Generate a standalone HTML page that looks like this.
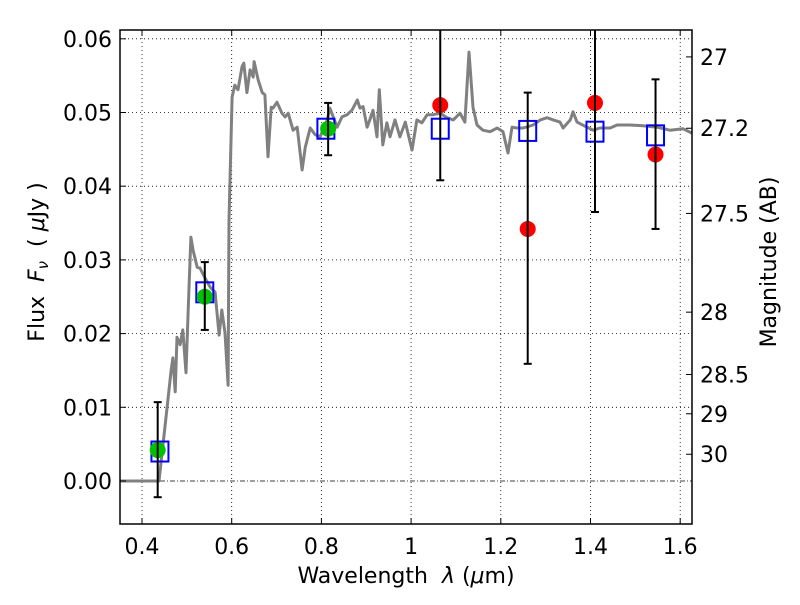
<!DOCTYPE html>
<html><head><meta charset="utf-8"><style>
body{margin:0;background:#fff}
svg text{font-family:"DejaVu Sans","Liberation Sans",sans-serif;fill:#000;white-space:pre}
</style></head><body>
<svg id="chart" width="800" height="600" xmlns="http://www.w3.org/2000/svg">
<rect width="800" height="600" fill="#fff"/>
<g id="grid"></g>
<g id="spec"></g>
<g id="marks"></g>
<g id="axes"></g>
</svg>
<script>
const specLam=[0.35,0.438,0.456,0.465,0.469,0.474,0.478,0.485,0.491,0.498,0.503,0.509,0.514,0.523,0.529,0.541,0.552,0.563,0.572,0.578,0.585,0.592,0.594,0.601,0.607,0.614,0.623,0.627,0.634,0.641,0.648,0.650,0.659,0.668,0.674,0.681,0.688,0.692,0.701,0.712,0.719,0.726,0.737,0.746,0.757,0.764,0.775,0.786,0.797,0.813,0.819,0.835,0.846,0.857,0.868,0.880,0.886,0.893,0.902,0.908,0.915,0.924,0.929,0.937,0.946,0.953,0.964,0.975,0.987,1.002,1.013,1.024,1.036,1.049,1.065,1.080,1.094,1.109,1.120,1.129,1.138,1.147,1.160,1.176,1.192,1.205,1.216,1.225,1.236,1.250,1.272,1.288,1.303,1.317,1.332,1.339,1.355,1.361,1.370,1.392,1.406,1.421,1.444,1.459,1.488,1.517,1.548,1.577,1.606,1.626];
const specFlux=[0,0,0.0100,0.0151,0.0167,0.0121,0.0195,0.0185,0.0205,0.0147,0.0232,0.0331,0.0313,0.0290,0.0289,0.0275,0.0263,0.0256,0.0198,0.0232,0.0201,0.0130,0.0354,0.0521,0.0537,0.0531,0.0562,0.0567,0.0527,0.0558,0.0548,0.0569,0.0544,0.0527,0.0524,0.0440,0.0507,0.0506,0.0514,0.0499,0.0494,0.0499,0.0476,0.0480,0.0422,0.0453,0.0479,0.0470,0.0467,0.0490,0.0506,0.0480,0.0494,0.0497,0.0503,0.0517,0.0506,0.0508,0.0480,0.0490,0.0503,0.0467,0.0531,0.0456,0.0486,0.0467,0.0490,0.0467,0.0487,0.0449,0.0490,0.0486,0.0497,0.0497,0.0499,0.0493,0.0490,0.0499,0.0487,0.0582,0.0507,0.0483,0.0476,0.0474,0.0479,0.0474,0.0445,0.0480,0.0479,0.0479,0.0483,0.0490,0.0493,0.0490,0.0487,0.0479,0.0490,0.0501,0.0487,0.0480,0.0476,0.0479,0.0479,0.0483,0.0483,0.0482,0.0480,0.0476,0.0478,0.0472];
const errLam=[0.435,0.54,0.815,1.065,1.26,1.41,1.545];
const errLo=[-0.0022,0.0205,0.0442,0.0408,0.0159,0.0365,0.0342];
const errHi=[0.0107,0.0297,0.0513,0.0700,0.0527,0.0700,0.0545];
const modelLam=[0.44,0.54,0.81,1.065,1.26,1.41,1.545];
const modelFlux=[0.0040,0.0256,0.0478,0.0478,0.0475,0.0474,0.0469];
const detLam=[0.435,0.54,0.815];
const detFlux=[0.0042,0.0250,0.0478];
const redLam=[1.065,1.26,1.41,1.545];
const redFlux=[0.0510,0.0342,0.0513,0.0443];
const xTicks=[0.4,0.6,0.8,1.0,1.2,1.4,1.6];
const xTickLabels=["0.4","0.6","0.8","1","1.2","1.4","1.6"];
const yTicks=[0,0.01,0.02,0.03,0.04,0.05,0.06];
const yTickLabels=["0.00","0.01","0.02","0.03","0.04","0.05","0.06"];
const magTicks=[27,27.2,27.5,28,28.5,29,30];
const magTickLabels=["27","27.2","27.5","28","28.5","29","30"];

const L=120,R=692,T=30,B=524;
const X=v=>142+(v-0.4)*448.5;
const Y=v=>481-v*7370;
const magY=m=>Y(Math.pow(10,(23.9-m)/2.5));
const NS="http://www.w3.org/2000/svg";
function mk(p,tag,at){const e=document.createElementNS(NS,tag);for(const k in at)e.setAttribute(k,at[k]);p.appendChild(e);return e;}
const grid=document.getElementById('grid'),spec=document.getElementById('spec'),marks=document.getElementById('marks'),axes=document.getElementById('axes');
const FS=22;
xTicks.forEach((t,i)=>{
 const g=mk(grid,'line',{x1:X(t),x2:X(t),y1:T,y2:B,stroke:'#000','stroke-width':0.8,'stroke-dasharray':'1,3'});
 
 
 mk(axes,'line',{x1:X(t),x2:X(t),y1:B,y2:B-6,stroke:'#000','stroke-width':1});
 mk(axes,'line',{x1:X(t),x2:X(t),y1:T,y2:T+6,stroke:'#000','stroke-width':1});
 const tx=mk(axes,'text',{x:X(t),y:B+30,'font-size':FS,'text-anchor':'middle'});tx.textContent=xTickLabels[i];
 
 
});
yTicks.forEach((t,i)=>{
 if(t>0){const g=mk(grid,'line',{x1:L,x2:R,y1:Y(t),y2:Y(t),stroke:'#000','stroke-width':0.8,'stroke-dasharray':'1,3'});
 
 }
 mk(axes,'line',{x1:L,x2:L+6,y1:Y(t),y2:Y(t),stroke:'#000','stroke-width':1});
 const tx=mk(axes,'text',{x:L-8,y:Y(t)+8,'font-size':FS,'text-anchor':'end'});tx.textContent=yTickLabels[i];
 
 
});
const zl=mk(grid,'line',{x1:L,x2:R,y1:Y(0),y2:Y(0),stroke:'#000','stroke-width':0.8,'stroke-dasharray':'5,2,1,2'});


magTicks.forEach((m,i)=>{
 mk(axes,'line',{x1:R,x2:R-6,y1:magY(m),y2:magY(m),stroke:'#000','stroke-width':1});
 const tx=mk(axes,'text',{x:R+8,y:magY(m)+8,'font-size':FS});tx.textContent=magTickLabels[i];
 
 
});

const pts=specLam.map((l,i)=>X(l).toFixed(1)+','+Y(specFlux[i]).toFixed(1)).join(' ');
const pl=mk(spec,'polyline',{points:pts,fill:'none',stroke:'#808080','stroke-width':3,'stroke-linejoin':'round'});



modelLam.forEach((l,i)=>{
 const r=mk(marks,'rect',{x:X(l)-8.5,y:Y(modelFlux[i])-10,width:17,height:20,fill:'none',stroke:'#0000ff','stroke-width':2});
 
 
});
detLam.forEach((l,i)=>{
 const c=mk(marks,'circle',{cx:X(l),cy:Y(detFlux[i]),r:8,fill:'#00c000'});
 
 
});
redLam.forEach((l,i)=>{
 const c=mk(marks,'circle',{cx:X(l),cy:Y(redFlux[i]),r:8,fill:'#ff0000'});
 
 
});
errLam.forEach((l,i)=>{
 const x=X(l),y1=Math.max(Y(errHi[i]),T),y2=Y(errLo[i]);
 const e=mk(marks,'line',{x1:x,x2:x,y1:y1,y2:y2,stroke:'#000','stroke-width':2});
 
 
 mk(marks,'line',{x1:x-4,x2:x+4,y1:y2,y2:y2,stroke:'#000','stroke-width':2});
 if(Y(errHi[i])>T)mk(marks,'line',{x1:x-4,x2:x+4,y1:y1,y2:y1,stroke:'#000','stroke-width':2});
});

const fr=mk(axes,'rect',{x:L,y:T,width:R-L,height:B-T,fill:'none',stroke:'#000','stroke-width':1.5});


const xl=mk(axes,'text',{x:406,y:583,'font-size':FS,'text-anchor':'middle'});
xl.innerHTML='Wavelength  <tspan font-style="italic">λ</tspan> (<tspan font-style="italic">μ</tspan>m)';


const yl=mk(axes,'text',{x:0,y:0,'font-size':FS,'text-anchor':'middle',transform:'translate(44,262) rotate(-90)'});
yl.innerHTML='Flux  <tspan font-style="italic">F</tspan><tspan font-style="italic" font-size="15" dy="4">ν</tspan><tspan dy="-4">  ( </tspan><tspan font-style="italic">μ</tspan>Jy )';


const ml=mk(axes,'text',{x:0,y:0,'font-size':FS,'text-anchor':'middle',transform:'translate(776,262) rotate(-90)'});
ml.textContent='Magnitude (AB)';


</script>
</body></html>
